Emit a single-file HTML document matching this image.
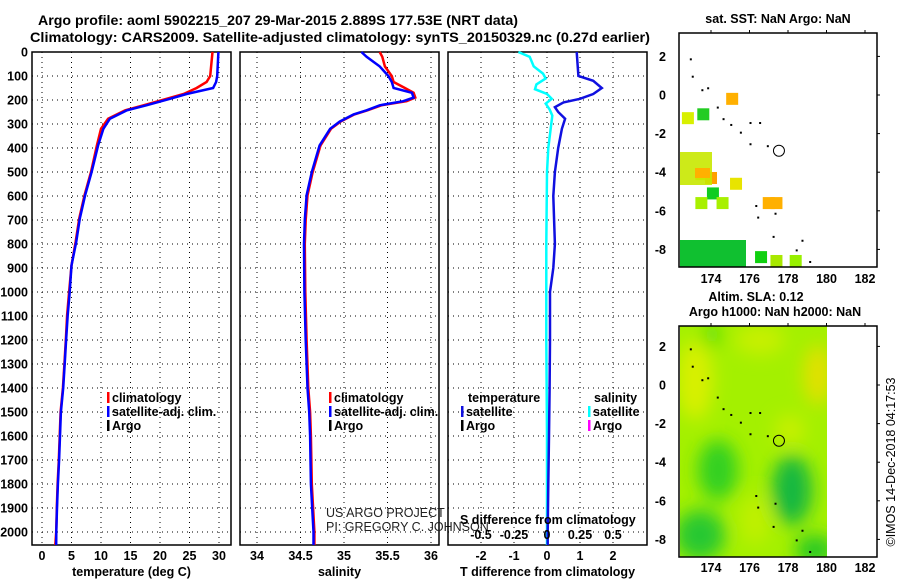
<!DOCTYPE html>
<html><head><meta charset="utf-8"><style>
body{margin:0;background:#fff}
svg{display:block;font-family:"Liberation Sans",sans-serif;font-weight:bold;font-size:12.5px}
.grid{stroke:#000;stroke-width:1;stroke-dasharray:1 4}
.frame{fill:none;stroke:#000;stroke-width:1.5}
</style></head><body>
<svg id="c" width="900" height="580" viewBox="0 0 900 580">
<text x="278" y="25" text-anchor="middle" font-size="14" textLength="480" lengthAdjust="spacingAndGlyphs">Argo profile: aoml 5902215_207 29-Mar-2015 2.889S 177.53E (NRT data)</text>
<text x="340" y="42" text-anchor="middle" font-size="14" textLength="620" lengthAdjust="spacingAndGlyphs">Climatology: CARS2009. Satellite-adjusted climatology: synTS_20150329.nc (0.27d earlier)</text>
<g id="g1"></g><g id="g2"></g><g id="g3"></g><g id="m1"></g><g id="m2"></g>
<text transform="translate(895,462) rotate(-90)" text-anchor="middle" font-weight="normal" font-size="12.5">©IMOS 14-Dec-2018 04:17:53</text>
</svg>
<script>
const pTicks=[0,100,200,300,400,500,600,700,800,900,1000,1100,1200,1300,1400,1500,1600,1700,1800,1900,2000];
const tempTicks=[0,5,10,15,20,25,30];
const salTicks=[34,34.5,35,35.5,36];
const tdTicks=[-2,-1,0,1,2];
const sdTickLabels=["-0.5","-0.25","0","0.25","0.5"];
const tPres=[0,100,125,150,175,195,222,243,278,320,389,500,597,694,792,889,1000,1097,1194,1300,1400,1500,1600,1700,1800,1900,2000,2054];
const tSat=[29.9,29.7,29.5,29.0,24.5,21.7,17.7,14.4,11.5,10.4,9.5,8.4,7.3,6.4,5.8,5.0,4.7,4.35,4.1,3.85,3.6,3.2,3.05,2.9,2.7,2.55,2.43,2.4];
const tClim=[28.9,28.5,27.9,26.2,24.0,21.1,17.2,14.1,11.2,10.0,9.3,8.3,7.2,6.3,5.7,5.0,4.6,4.25,4.05,3.8,3.55,3.15,3.0,2.85,2.65,2.5,2.4,2.25];
const sPres=[0,20,60,100,125,150,170,190,205,222,243,260,290,320,389,500,597,700,800,1000,1200,1400,1500,1600,1800,1900,2000,2054];
const sSat=[35.20,35.26,35.41,35.51,35.55,35.57,35.78,35.80,35.68,35.41,35.26,35.11,34.95,34.84,34.72,34.63,34.57,34.55,34.54,34.545,34.56,34.58,34.60,34.61,34.62,34.635,34.65,34.65];
const sClim=[35.41,35.44,35.47,35.55,35.57,35.70,35.80,35.82,35.72,35.43,35.27,35.12,34.96,34.85,34.73,34.64,34.58,34.56,34.55,34.555,34.57,34.59,34.61,34.62,34.63,34.645,34.66,34.66];
const dtPres=[0,100,120,150,175,195,210,230,250,278,320,400,500,600,800,900,1000,1200,1400,1600,1800,2000,2054];
const dTsat=[0.9,0.95,1.4,1.66,1.4,1.0,0.5,0.24,0.34,0.55,0.45,0.34,0.24,0.19,0.24,0.19,0.09,0.09,0.08,0.06,0.04,0.02,0.02];
const dsPres=[0,20,60,90,110,135,155,175,195,215,240,265,400,500,800,1200,1600,2054];
const dSsat=[-0.215,-0.13,-0.10,-0.03,-0.01,-0.08,-0.09,0,0.035,-0.01,0.02,0.04,0.01,0,-0.005,-0.005,0,0];
const lonTicks=[174,176,178,180,182];
const latTicks=[2,0,-2,-4,-6,-8];
// SST squares: [lon, lat, size(deg), color]
const sstLon=[175.1,172.8,173.6,173.5,174.0,175.3,174.1,173.5,174.6,177.0,177.4,173.6,176.6,177.4,178.4];
const sstLat=[-0.2,-1.2,-1.0,-4.1,-4.3,-4.6,-5.1,-5.6,-5.6,-5.6,-5.6,-8.2,-8.4,-8.6,-8.6];
const sstCol=["#ffb000","#d8f000","#22cc22","#d0e800","#ffa000","#e8e400","#10cc20","#a8f000","#a8f000","#ffb000","#ffb000","#00bb30","#10d010","#a8e800","#98f000"];

const NS="http://www.w3.org/2000/svg";
function mk(par,tag,at,txt){const e=document.createElementNS(NS,tag);for(const k in at)e.setAttribute(k,at[k]);if(txt!==undefined)e.textContent=txt;par.appendChild(e);return e;}
const Y=p=>52+p*0.24;
const BOT=545;
function panel(g,x0,x1,xs,ticks,labels,title,name){
  for(const p of pTicks){const l=mk(g,'line',{x1:x0,x2:x1,y1:Y(p),y2:Y(p),class:'grid'});
    
    }
  ticks.forEach((t,i)=>{const x=xs(t);
    const l=mk(g,'line',{x1:x,x2:x,y1:52,y2:BOT,class:'grid'});
    
    
    const tl=mk(g,'text',{x:x,y:560,'text-anchor':'middle'},labels[i]);
    
    });
  const f=mk(g,'rect',{x:x0,y:52,width:x1-x0,height:BOT-52,class:'frame'});
  
  
  const t=mk(g,'text',{x:(x0+x1)/2,y:576,'text-anchor':'middle'},title);
  
  
}
function line(g,xs,pr,vals,col,w,name){
  const pts=pr.map((p,i)=>xs(vals[i]).toFixed(1)+','+Y(p).toFixed(1)).join(' ');
  const l=mk(g,'polyline',{points:pts,fill:'none',stroke:col,'stroke-width':w});
  
  
}
function legend(g,x,y,col,txt,name){
  const r=mk(g,'rect',{x:x,y:y-10,width:2.5,height:11,fill:col});
  
  
  const t=mk(g,'text',{x:x+5,y:y},txt);
  
  
}
// y labels
const g1=document.getElementById('g1');
for(const p of pTicks){const t=mk(g1,'text',{x:28,y:Y(p)+4.5,'text-anchor':'end'},p);
  
  }
const xT=v=>42+v*5.9;
panel(g1,32,231,xT,tempTicks,tempTicks.map(String),'temperature (deg C)','temperature-panel');
line(g1,xT,tPres,tClim,'#ff0000',2.5,'temperature-climatology-line');
line(g1,xT,tPres,tSat,'#0000ff',2.5,'temperature-satellite-line');
legend(g1,107,402,'#ff0000','climatology','legend-climatology');
legend(g1,107,416,'#0000ff','satellite-adj. clim.','legend-satellite');
legend(g1,107,430,'#000','Argo','legend-argo');

const g2=document.getElementById('g2');
const xS=v=>257+(v-34)*87;
panel(g2,240,439,xS,salTicks,["34","34.5","35","35.5","36"],'salinity','salinity-panel');
line(g2,xS,sPres,sClim,'#ff0000',2.5,'salinity-climatology-line');
line(g2,xS,sPres,sSat,'#0000ff',2.5,'salinity-satellite-line');
legend(g2,329,402,'#ff0000','climatology','legend-sal-climatology');
legend(g2,329,416,'#0000ff','satellite-adj. clim.','legend-sal-satellite');
legend(g2,329,430,'#000','Argo','legend-sal-argo');
{const a=mk(g2,'text',{x:326,y:517,'font-weight':'normal',fill:'#222'},'US ARGO PROJECT');

const b=mk(g2,'text',{x:326,y:531,'font-weight':'normal',fill:'#222'},'PI: GREGORY C. JOHNSON');
}

const g3=document.getElementById('g3');
const xD=v=>547+v*33;
const xSD=v=>547+v*133;
panel(g3,448,647,xD,tdTicks,tdTicks.map(String),'T difference from climatology','difference-panel');
line(g3,xSD,dsPres,dSsat,'#00ffff',2.5,'salinity-difference-line');
line(g3,xD,dtPres,dTsat,'#1010e0',2.5,'temperature-difference-line');
{const t=mk(g3,'text',{x:468,y:402},'temperature');
const s=mk(g3,'text',{x:594,y:402},'salinity');}
legend(g3,461,416,'#1010e0','satellite','legend-t-satellite');
legend(g3,461,430,'#000','Argo','legend-t-argo');
legend(g3,588,416,'#00ffff','satellite','legend-s-satellite');
legend(g3,588,430,'#ff00ff','Argo','legend-s-argo');
{const t=mk(g3,'text',{x:460,y:524},'S difference from climatology');}
tdTicks.forEach((v,i)=>{const t=mk(g3,'text',{x:xD(v),y:539,'text-anchor':'middle'},sdTickLabels[i]);
  
  });

// maps
const LX=v=>711+(v-174)*19.25;
function map(g,top,bot,latY,name,labY){
  const f=mk(g,'rect',{x:679,y:top,width:198,height:bot-top,class:'frame'});
  
  for(const l of lonTicks){const t=mk(g,'text',{x:LX(l),y:labY,'text-anchor':'middle'},l);
    
    mk(g,'line',{x1:LX(l),x2:LX(l),y1:top-3,y2:top,stroke:'#000'});}
  for(const l of latTicks){const t=mk(g,'text',{x:666,y:latY(l)+4.5,'text-anchor':'end'},l);
    
    mk(g,'line',{x1:877,x2:880,y1:latY(l),y2:latY(l),stroke:'#000'});}
}
const m1=document.getElementById('m1');
const LY1=v=>95-v*19.3;
sstLon.forEach((lo,i)=>{const r=mk(m1,'rect',{x:LX(lo)-6,y:LY1(sstLat[i])-6,width:12,height:12,fill:sstCol[i]});
  });
mk(m1,'rect',{x:680,y:240,width:66,height:27,fill:'#10c030'});
mk(m1,'rect',{x:680,y:152,width:32,height:33,fill:'#c8e800',opacity:0.9});
mk(m1,'rect',{x:695,y:168,width:15,height:10,fill:'#ffb000'});
map(m1,33,267,LY1,'sst-map',283);
{const t=mk(m1,'text',{x:778,y:23,'text-anchor':'middle'},'sat. SST: NaN Argo: NaN');}
{const c=mk(m1,'circle',{cx:LX(177.53),cy:LY1(-2.889),r:5.5,fill:'none',stroke:'#000'});}

const m2=document.getElementById('m2');
const LY2=v=>385-v*19.3;
const defs=mk(m2,'defs',{});const fl=mk(defs,'filter',{id:'bl',x:'-50%',y:'-50%',width:'200%',height:'200%'});mk(fl,'feGaussianBlur',{stdDeviation:9});
mk(defs,'clipPath',{id:'cp'});mk(defs.lastChild,'rect',{x:680,y:326,width:147,height:231});
{const r=mk(m2,'rect',{x:680,y:326,width:147,height:231,fill:'#a4f000'});}
const bl=mk(m2,'g',{filter:'url(#bl)','clip-path':'url(#cp)'});
[[695,380,18,40,'#d8f000'],[818,375,14,30,'#e4e000'],[760,340,25,15,'#c8f000'],[718,470,20,30,'#30d020'],[792,490,20,35,'#18b840'],[700,535,25,25,'#28c830'],[815,550,20,15,'#28c828'],[755,520,15,25,'#c0f000'],[790,430,15,15,'#c8f000'],[712,335,8,12,'#50dc10']].forEach(a=>mk(bl,'ellipse',{cx:a[0],cy:a[1],rx:a[2],ry:a[3],fill:a[4]}));
map(m2,326,557,LY2,'sla-map',572);
{const t=mk(m2,'text',{x:756,y:301,'text-anchor':'middle'},'Altim. SLA: 0.12');
const t2=mk(m2,'text',{x:775,y:316,'text-anchor':'middle'},'Argo h1000: NaN h2000: NaN');}
{const c=mk(m2,'circle',{cx:LX(177.53),cy:LY2(-2.889),r:5.5,fill:'none',stroke:'#000'});}
// island dots
const isLon=[172.9,173.0,173.5,173.8,174.3,174.6,175.0,175.5,176.0,176.5,176.0,176.9,176.3,176.4,177.3,177.2,178.4,178.7,179.1];
const isLat=[1.9,1.0,0.3,0.4,-0.6,-1.2,-1.5,-1.9,-1.4,-1.4,-2.5,-2.6,-5.7,-6.3,-6.1,-7.3,-8.0,-7.5,-8.6];
for(const [g,ly] of [[m1,LY1],[m2,LY2]]) isLon.forEach((lo,i)=>{const r=mk(g,'rect',{x:LX(lo),y:ly(isLat[i]),width:2,height:2,fill:'#000'});
  });
</script>
</body></html>
